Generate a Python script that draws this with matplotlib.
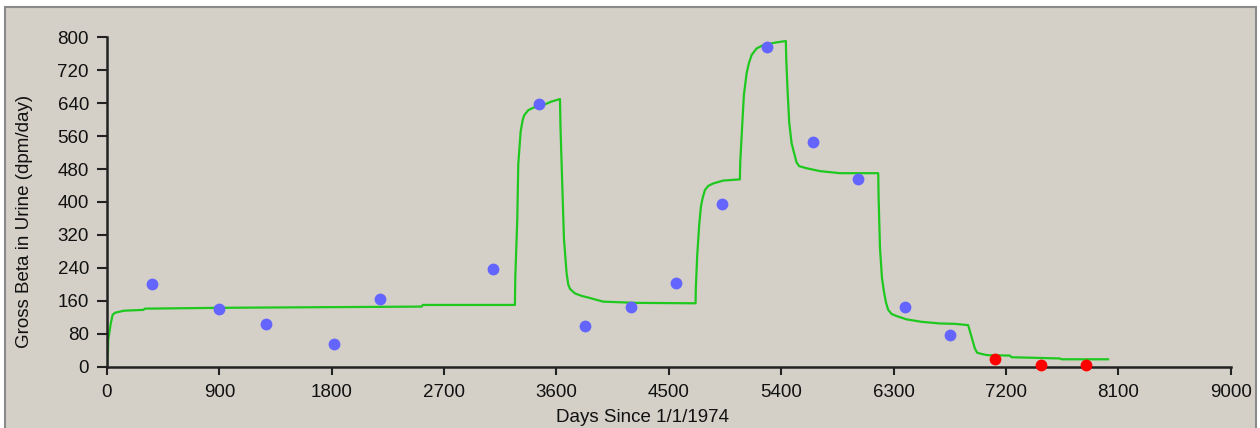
import matplotlib
matplotlib.use("Agg")
import matplotlib.pyplot as plt
from matplotlib.patches import Rectangle

# Measured urine data (blue) and later measurements (red)
days_blue = [360, 899, 1271, 1820, 2184, 3094, 3462, 3825, 4194, 4554,
             4922, 5285, 5651, 6017, 6388, 6748]
beta_blue = [200, 139, 104, 55, 165, 237, 637, 99, 145, 204,
             395, 777, 545, 455, 146, 76]
days_red = [7109, 7477, 7845]
beta_red = [19, 5, 5]

# Model curve (green)
model_days = [0, 8, 10, 30, 45, 64, 136, 291, 304, 905, 2520, 2530, 3267,
              3270, 3286, 3294, 3313, 3329, 3342, 3374, 3414, 3481, 3561, 3628,
              3632, 3646, 3660, 3681, 3694, 3708, 3748, 3801, 3854, 3974, 4242,
              4714, 4716, 4727, 4743, 4757, 4770, 4789, 4815, 4855, 4935, 5069,
              5072, 5087, 5101, 5123, 5141, 5163, 5203, 5256, 5349, 5437,
              5440, 5451, 5464, 5483, 5504, 5523, 5544, 5603, 5710, 5870, 6177,
              6180, 6191, 6207, 6223, 6239, 6257, 6284, 6324, 6404, 6524, 6671,
              6791, 6897, 6924, 6950, 6969, 7004, 7052, 7231, 7245, 7632, 7645,
              8018]
model_beta = [0, 40, 65, 105, 126, 131, 136, 138, 141, 143, 146, 150, 150,
              216, 358, 492, 571, 599, 611, 623, 629, 634, 644, 650,
              583, 445, 310, 227, 200, 189, 178, 172, 168, 158, 155,
              154, 190, 269, 344, 389, 409, 429, 439, 445, 452, 455,
              498, 583, 660, 713, 737, 757, 773, 781, 787, 791,
              749, 670, 593, 543, 518, 496, 487, 482, 475, 470, 470,
              411, 288, 215, 182, 156, 138, 128, 123, 115, 109, 105,
              104, 101, 73, 45, 34, 31, 28, 27, 23, 20, 18,
              18]

x_ticks = [0, 900, 1800, 2700, 3600, 4500, 5400, 6300, 7200, 8100, 9000]
y_ticks = [0, 80, 160, 240, 320, 400, 480, 560, 640, 720, 800]

W, H = 1260, 428
DPI = 100
BG = "#D4D0C8"
FS = 13.5

plt.rcParams['font.family'] = ['Liberation Sans', 'DejaVu Sans']
fig = plt.figure(figsize=(W / DPI, H / DPI), dpi=DPI, facecolor="white")

# grey panel with border (drawn behind the axes)
panel = Rectangle((5 / W, -0.01), (1256 - 5) / W, (H - 7) / H + 0.01,
                  transform=fig.transFigure, facecolor=BG, edgecolor="#8a8a8a",
                  linewidth=1.5, zorder=-10)
fig.patches.append(panel)

left, right = 107 / W, 1230.7 / W
bottom, top = 1 - 366.7 / H, 1 - 37.3 / H
ax = fig.add_axes([left, bottom, right - left, top - bottom])
ax.set_zorder(1)
ax.patch.set_visible(False)

ax.plot(model_days, model_beta, color="#1EC81E", linewidth=1.6, zorder=2)
ax.plot(days_blue, beta_blue, 'o', color="#6464FF", markersize=8.5,
        markeredgewidth=0, zorder=3)
ax.plot(days_red, beta_red, 'o', color="#FF0000", markersize=8.5,
        markeredgewidth=0, zorder=3, clip_on=False)

ax.set_xlim(0, 9000)
ax.set_ylim(0, 800)
ax.set_xticks(x_ticks)
ax.set_yticks(y_ticks)

for s in ["top", "right"]:
    ax.spines[s].set_visible(False)
for s in ["left", "bottom"]:
    ax.spines[s].set_color("#222222")
    ax.spines[s].set_linewidth(1.8)

ax.tick_params(axis='y', direction='out', length=7, width=1.5, colors="#222222",
               labelsize=FS, pad=6)
ax.tick_params(axis='x', direction='out', length=5.5, width=1.5, colors="#222222",
               labelsize=FS, pad=7)
for lbl in ax.get_xticklabels() + ax.get_yticklabels():
    lbl.set_color("#111111")

fig.text(25 / W, 1 - 221 / H, "Gross Beta in Urine (dpm/day)", rotation=90,
         ha="center", va="center", fontsize=FS, color="#111111")
fig.text(643 / W, 1 - 417 / H, "Days Since 1/1/1974", ha="center", va="center",
         fontsize=FS, color="#111111")

fig.savefig("out.png", dpi=DPI, facecolor=fig.get_facecolor())
